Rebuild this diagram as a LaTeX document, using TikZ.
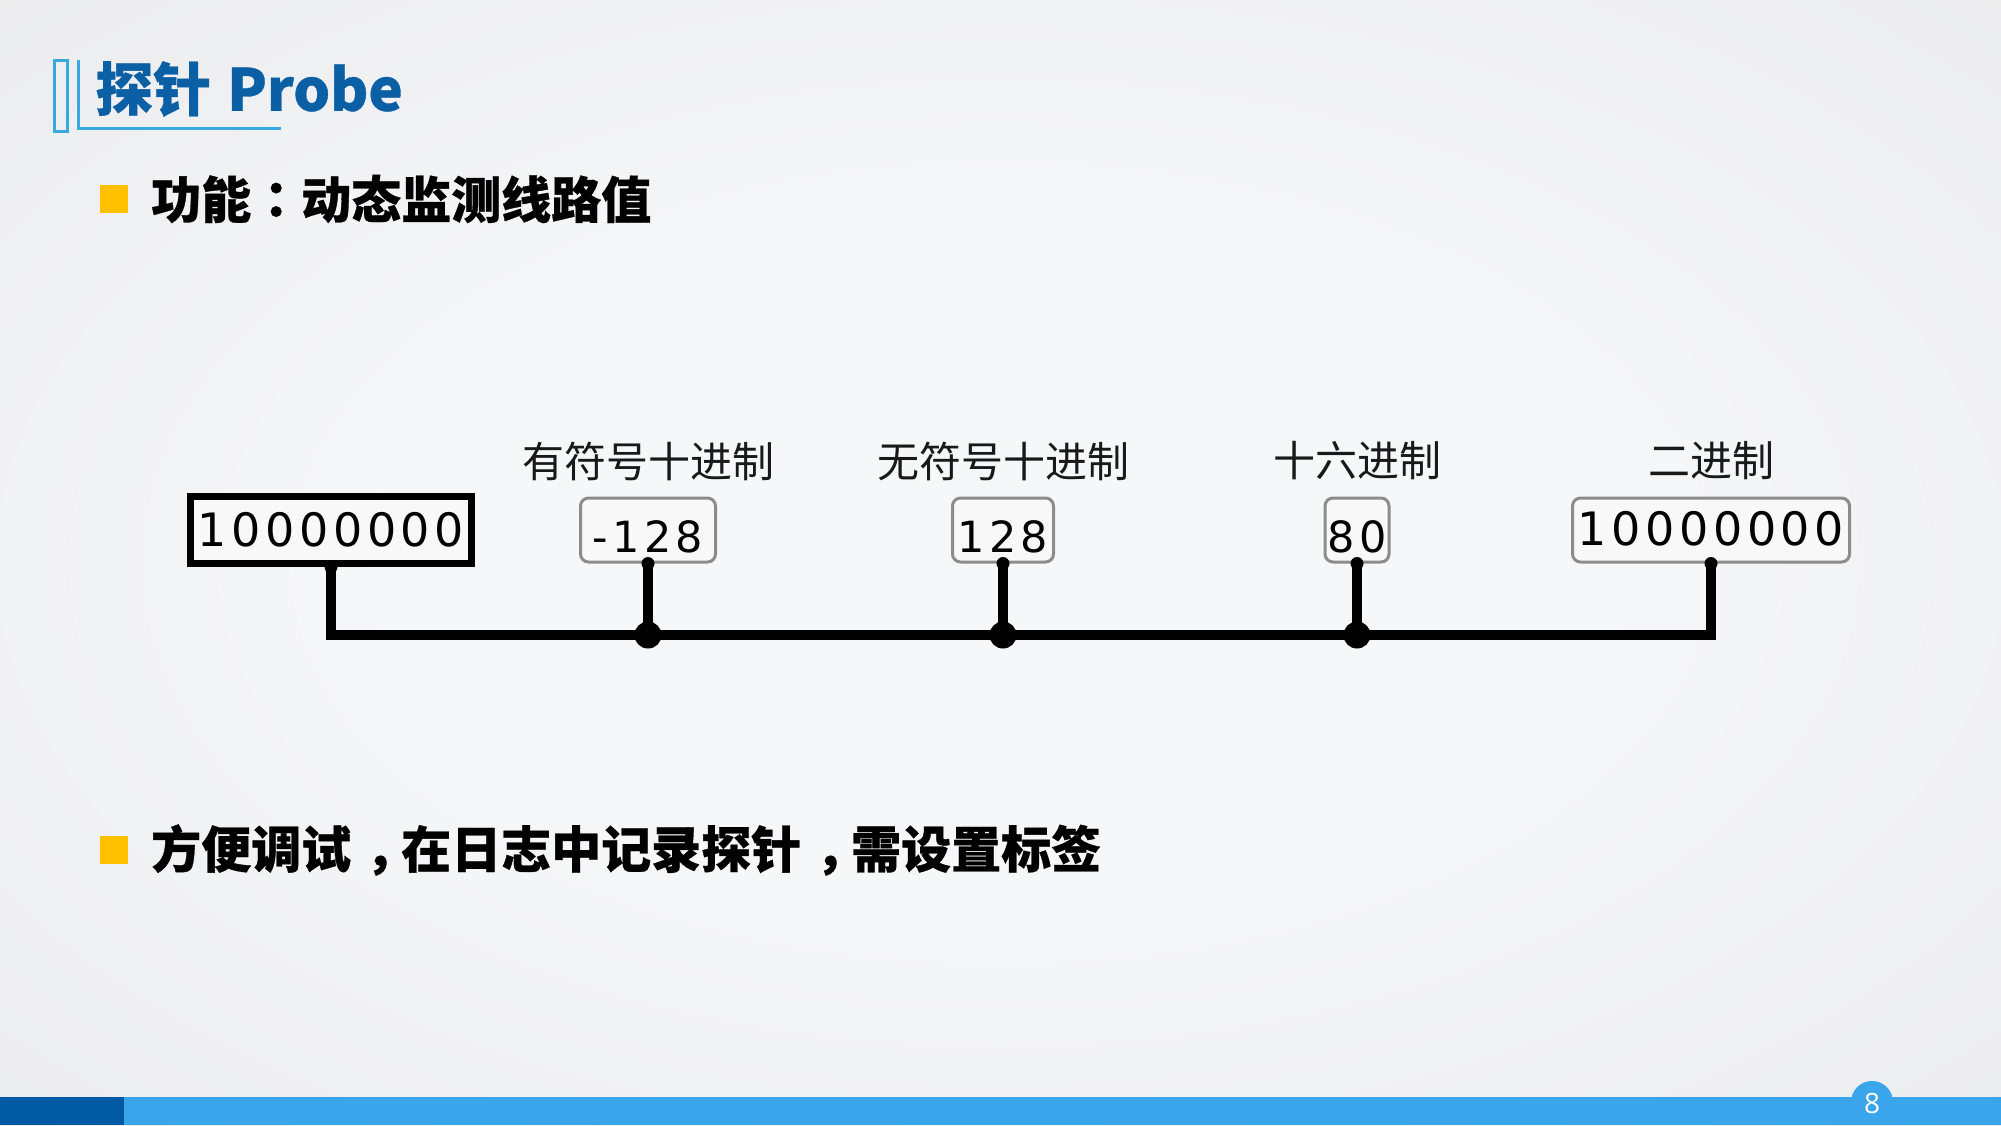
\documentclass[tikz,border=0pt]{standalone}
\usepackage{fontspec}
\newfontfamily\cjk{Noto Sans CJK SC}[BoldFeatures={FakeBold=0.6}]
\newfontfamily\cjkp{Noto Sans CJK TC}[BoldFeatures={FakeBold=0.6}]
\newfontfamily\digitfont{DejaVu Sans}[LetterSpace=10]
\newfontfamily\pagefont{Open Sans}
\newcommand\fwcomma{\kern14pt，\kern-14pt}
\definecolor{titleblue}{HTML}{0B5FA5}
\definecolor{lineblue}{HTML}{3AA8E0}
\definecolor{barblue}{HTML}{3AA5EB}
\definecolor{bardark}{HTML}{0059A3}
\definecolor{bulletyellow}{HTML}{FFC000}
\definecolor{probegray}{HTML}{8C8C8C}
\definecolor{boxfill}{HTML}{F8F8F9}
\definecolor{bgin}{HTML}{F6F7F9}
\definecolor{bgmid}{HTML}{E4E4E5}
\definecolor{bgout}{HTML}{D4D4D4}
\pgfdeclareradialshading{bgshade}{\pgfpoint{0bp}{0bp}}{color(0bp)=(bgin); color(15bp)=(bgin); color(50bp)=(bgmid); color(71bp)=(bgout)}
\begin{document}
\begin{tikzpicture}[x=1pt,y=-1pt,
  wire/.style={line width=10pt, black, line join=miter},
  probebox/.style={draw=probegray, line width=3pt, rounded corners=8pt, fill=boxfill, minimum height=64pt, inner sep=0pt, text height=45pt, text depth=0pt, font=\digitfont\fontsize{43}{43}\selectfont},
  regbox/.style={draw=black, line width=7pt, fill=boxfill, minimum height=67pt, inner sep=0pt, font=\digitfont\fontsize{46}{46}\selectfont},
  lbl/.style={inner sep=0pt, font=\cjk\fontsize{42}{42}\selectfont, text=black!90},
  bullettext/.style={inner sep=0pt, anchor=west, font=\cjk\bfseries\fontsize{50}{50}\selectfont, text=black},
  bulletsq/.style={fill=bulletyellow},
  titlebar/.style={draw=lineblue, line width=3pt}
]
\useasboundingbox (0,0) rectangle (2001,1125);
% background
\shade[shading=bgshade] (0,0) rectangle (2001,1125);
% title
\draw[titlebar] (54,60) rectangle (67,131);
\draw[titlebar] (78.5,60) -- (78.5,128) -- (281,128);
\node[inner sep=0pt, anchor=west, font=\cjk\bfseries\fontsize{58}{58}\selectfont, text=titleblue] (title) at (95,89) {探针\hspace{16pt}Probe};
% bullets
\fill[bulletsq] (100,185) rectangle (128,213);
\node[bullettext] (feat) at (151,199) {功能{\cjkp ：}动态监测线路值};
\fill[bulletsq] (100,836) rectangle (128,864);
\node[bullettext] (conv) at (151,850) {方便调试\fwcomma 在日志中记录探针\fwcomma 需设置标签};
% labels
\node[lbl] (lbl1) at (648,461) {有符号十进制};
\node[lbl] (lbl2) at (1003,461) {无符号十进制};
\node[lbl] (lbl3) at (1357,461) {十六进制};
\node[lbl] (lbl4) at (1711,461) {二进制};
% boxes
\node[regbox, minimum width=281pt] (L) at (331,530) {10000000};
\node[probebox, minimum width=135pt] (P1) at (648,530) {-128};
\node[probebox, minimum width=101pt] (P2) at (1003,530) {128};
\node[probebox, minimum width=64pt] (P3) at (1357,530) {80};
\node[probebox, minimum width=277pt, text height=31pt] (R) at (1711,530) {\fontsize{46}{46}\selectfont 10000000};
% wires
\coordinate (busL) at (331,635);
\coordinate (busR) at (1711,635);
\draw[wire] (L.south) -- (busL) -- (busR) -- (R.south);
\foreach \p in {P1,P2,P3}{
  \draw[wire] (\p.south) -- (\p.south |- busL);
  \fill (\p.south |- busL) circle (13.5pt);
  \fill (\p.south) circle (6.5pt);
}
\fill (L.south) circle (6.5pt);
\fill (R.south) circle (6.5pt);
% bottom bar
\fill[barblue] (0,1097) rectangle (2001,1125);
\fill[bardark] (0,1097) rectangle (124,1125);
\fill[barblue] (1872,1102) circle (21pt);
\node[inner sep=0pt, font=\pagefont\fontsize{28}{28}\selectfont, text=white] (pg) at (1872,1103) {8};
\end{tikzpicture}
\end{document}
